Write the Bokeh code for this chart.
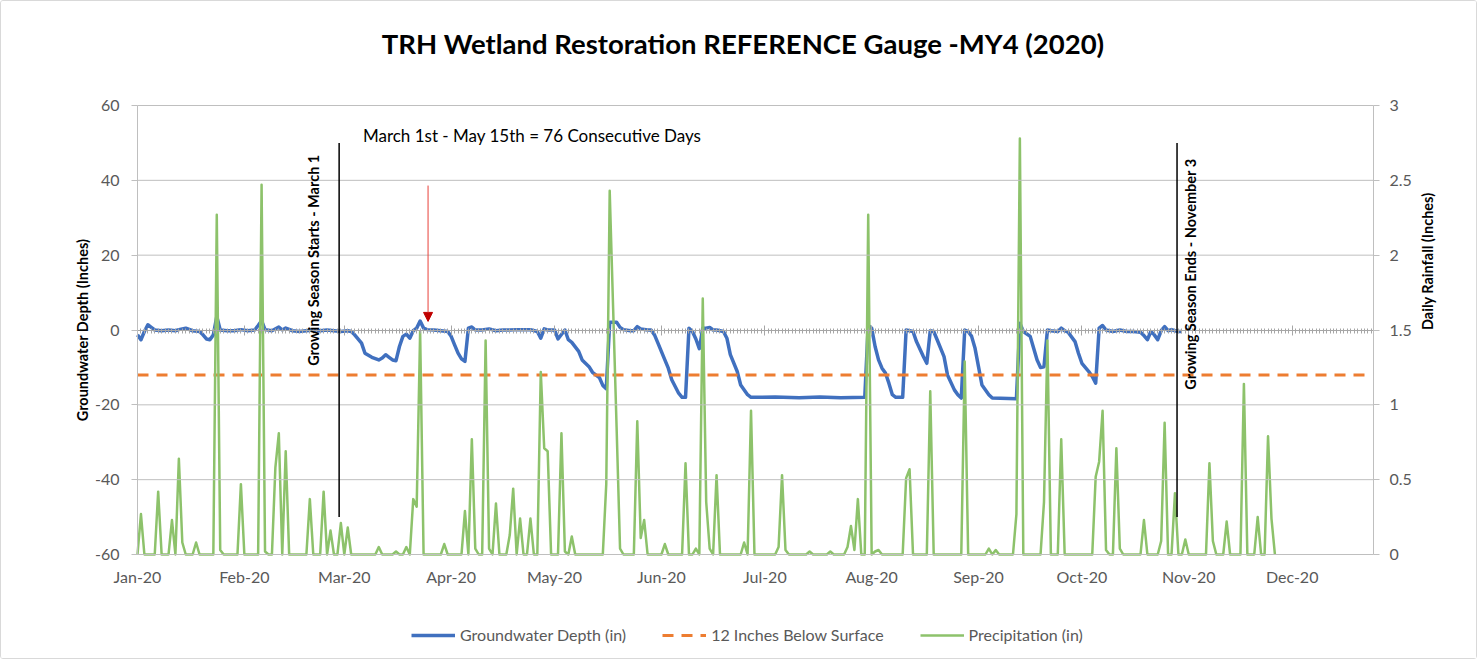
import numpy as np
from bokeh.plotting import figure
from bokeh.models import (Range1d, LinearAxis, FixedTicker, Legend, LegendItem,
                          Label, Arrow, NormalHead, NumeralTickFormatter)
from bokeh.embed import file_html
from bokeh.resources import INLINE

# ---------------- data (day offsets from 1 Jan 2020) ----------------
month_days = [0, 31, 60, 91, 121, 152, 182, 213, 244, 274, 305, 335]
month_labels = ["Jan-20", "Feb-20", "Mar-20", "Apr-20", "May-20", "Jun-20",
                "Jul-20", "Aug-20", "Sep-20", "Oct-20", "Nov-20", "Dec-20"]
depth_ticks = [-60, -40, -20, 0, 20, 40, 60]
rain_ticks = [0, 0.5, 1, 1.5, 2, 2.5, 3]

gw_day = [0, 1, 2, 3, 4, 5, 7, 9, 11, 12, 14, 16, 18, 19, 20, 21, 22, 23, 24, 26,
          28, 30, 32, 34, 35, 36, 37, 39, 41, 42, 43, 45, 47, 49, 51, 53, 55, 57, 59,
          61, 62, 63, 65, 66, 68, 70, 71, 72, 73, 74, 75, 76, 77, 78, 79, 80, 81, 82,
          83, 84, 86, 88, 90, 91, 92, 93, 94, 95, 96, 97, 98, 100, 102, 104, 106, 108,
          110, 114, 116, 117, 118, 119, 121, 122, 124, 125, 126, 128, 129, 131, 132,
          134, 135, 136, 137, 139, 140, 141, 143, 144, 145, 146, 148, 149, 150, 151,
          153, 154, 155, 157, 158, 159, 160, 161, 162, 163, 164, 165, 166, 167, 168,
          170, 171, 172, 174, 175, 177, 178, 185, 192, 198, 204, 211, 212, 213, 214,
          215, 216, 217, 218, 219, 220, 222, 223, 224, 225, 226, 228, 229, 230, 231,
          232, 234, 235, 237, 238, 239, 240, 241, 242, 243, 244, 245, 247, 248, 255,
          256, 257, 259, 260, 261, 262, 263, 264, 265, 267, 268, 269, 270, 272, 273,
          274, 276, 277, 278, 279, 280, 281, 283, 285, 287, 289, 291, 292, 293, 294,
          295, 296, 297, 298, 299, 300, 301, 302, 303]
gw_depth = [-1.3, -2.6, -0.4, 1.4, 0.7, 0.0, -0.2, 0.0, -0.2, 0.1, 0.5, -0.2, -0.4, -1.3,
            -2.4, -2.6, -1.3, 3.6, 0.0, -0.2, -0.2, 0.1, -0.2, 0.0, 1.2, 2.5, 0.1, -0.2,
            0.8, 0.0, 0.5, -0.2, -0.4, -0.2, 0.0, -0.2, 0.0, -0.2, -0.4, -0.2, -0.4, -1.3,
            -3.5, -6.2, -7.3, -8.0, -7.5, -6.6, -7.3, -8.0, -8.2, -4.4, -1.7, -1.1, -2.2,
            -0.2, 0.5, 2.4, 0.5, 0.1, 0.0, -0.2, -0.4, -1.7, -4.0, -6.2, -7.7, -8.4, 0.5,
            0.8, 0.0, 0.0, 0.3, -0.2, 0.0, 0.0, 0.1, 0.1, -0.4, -2.2, 0.3, 0.0, 0.0, -2.4,
            0.0, -2.6, -3.3, -5.7, -8.0, -9.8, -11.3, -12.7, -14.8, -15.7, 2.1, 2.1, 0.7,
            0.1, -0.2, -0.2, 0.9, 0.3, 0.0, 0.0, -1.3, -3.5, -8.0, -10.2, -13.3, -16.9,
            -18.0, -18.0, 0.5, -0.4, -2.4, -5.0, 0.5, 0.5, 0.7, 0.0, 0.0, -0.4, -2.2,
            -6.6, -11.1, -14.7, -17.3, -18.0, -17.9, -18.1, -17.9, -18.1, -18.0, 1.2, 0.5,
            -4.4, -8.0, -10.2, -11.5, -14.2, -17.3, -18.0, -18.0, 0.0, -0.2, -0.4, -3.1,
            -7.1, -8.9, -0.2, -0.4, -2.6, -7.1, -12.0, -16.0, -17.3, -18.2, 0.0, -0.4,
            -1.7, -4.9, -9.8, -14.7, -17.3, -18.2, -18.4, 1.8, -0.4, -1.7, -4.9, -8.0,
            -10.0, -9.8, 0.0, -0.2, -0.4, 0.5, -0.2, -0.6, -3.1, -6.2, -8.9, -11.1, -12.4,
            -14.2, 0.5, 1.2, 0.0, -0.4, 0.0, -0.4, -0.4, -0.6, -1.5, -2.6, -0.4, -1.3,
            -2.6, -0.2, 0.9, -0.2, 0.1, -0.2, -0.4, -0.4]

threshold_day = [0, 356]
threshold_depth = [-12, -12]

rain_last_day = 330
rain_day = [1, 6, 10, 12, 13, 17, 23, 24, 30, 36, 37, 40, 41, 43, 50, 54, 56, 59, 61,
            70, 75, 78, 80, 81, 82, 89, 95, 97, 98, 101, 102, 104, 108, 109, 111, 114,
            117, 118, 119, 123, 124, 126, 136, 137, 138, 139, 140, 145, 146, 147, 153,
            159, 162, 164, 165, 166, 168, 176, 178, 186, 187, 188, 195, 201, 206, 207,
            208, 209, 212, 214, 215, 223, 224, 230, 240, 247, 249, 255, 256, 263, 264,
            268, 278, 279, 280, 281, 284, 285, 292, 297, 298, 301, 304, 311, 312, 316,
            321, 325, 328, 329]
rain_in = [0.27, 0.42, 0.23, 0.64, 0.08, 0.08, 2.27, 0.03, 0.47, 2.47, 0.02, 0.58, 0.81,
           0.69, 0.37, 0.42, 0.16, 0.21, 0.18, 0.05, 0.02, 0.05, 0.37, 0.32, 1.49, 0.07,
           0.29, 0.77, 0.04, 1.43, 0.04, 0.34, 0.13, 0.44, 0.24, 0.24, 1.22, 0.71, 0.69,
           0.81, 0.02, 0.12, 0.47, 2.43, 1.64, 0.85, 0.04, 0.89, 0.11, 0.23, 0.07, 0.61,
           0.04, 1.71, 0.35, 0.04, 0.53, 0.08, 0.96, 0.05, 0.53, 0.03, 0.02, 0.02, 0.05,
           0.19, 0.03, 0.37, 2.27, 0.02, 0.03, 0.51, 0.57, 1.09, 1.29, 0.04, 0.03, 0.27,
           2.78, 0.35, 1.43, 0.77, 0.52, 0.62, 0.96, 0.03, 0.71, 0.04, 0.23, 0.09, 0.88,
           0.41, 0.10, 0.61, 0.09, 0.22, 1.14, 0.25, 0.79, 0.24]

# daily precipitation series (days without a reading are 0 in)
rain_days_all = np.arange(0, rain_last_day + 1)
rain_all = np.zeros(len(rain_days_all))
rain_all[np.array(rain_day)] = rain_in

# ---------------- layout geometry ----------------
X_END = 358.6                      # last day shown on the axis
DEPTH_MIN, DEPTH_MAX = -60, 60
RAIN_MIN, RAIN_MAX = 0, 3
FIG_W, FIG_H = 1475, 657
PLOT_LEFT, PLOT_RIGHT = 136, 1372  # pixel columns of day 0 and X_END
PLOT_TOP, PLOT_BOTTOM = 104, 553   # pixel rows of depth 60 and -60
px_per_day = (PLOT_RIGHT - PLOT_LEFT) / X_END
px_per_unit = (PLOT_BOTTOM - PLOT_TOP) / (DEPTH_MAX - DEPTH_MIN)
pad_top = PLOT_TOP / px_per_unit
pad_bot = (FIG_H - PLOT_BOTTOM) / px_per_unit
depth_per_in = (DEPTH_MAX - DEPTH_MIN) / (RAIN_MAX - RAIN_MIN)

# annotation anchors (day offsets / depth units)
season_start_day = 58.5
season_end_day = 301.6
arrow_day = 84.3

FONT = "Lato"
TICK_COLOR = "#595959"
GRID_COLOR = "#bfbfbf"
AXIS_COLOR = "#bfbfbf"

p = figure(frame_width=FIG_W, frame_height=FIG_H,
           x_range=Range1d(-PLOT_LEFT / px_per_day,
                           X_END + (FIG_W - PLOT_RIGHT) / px_per_day),
           y_range=Range1d(DEPTH_MIN - pad_bot, DEPTH_MAX + pad_top),
           output_backend="svg", toolbar_location=None,
           min_border_left=0, min_border_right=0,
           min_border_top=0, min_border_bottom=0)
p.styles = {"border": "1px solid #d9d9d9", "border-radius": "3px"}
p.outline_line_color = None
p.background_fill_color = "white"
p.border_fill_color = "white"
p.xgrid.visible = False
p.ygrid.visible = False

# ---- horizontal gridlines over the plot span only
for t in depth_ticks:
    if t != 0:
        p.add_layout(Arrow(end=None, x_start=0, y_start=t, x_end=X_END, y_end=t,
                           line_color=GRID_COLOR, line_width=1))

# ---- bottom axis: month labels only, hung under the -60 line
xax = p.below[0]
xax.fixed_location = DEPTH_MIN
xax.bounds = (0, X_END)
xax.ticker = FixedTicker(ticks=month_days)
xax.major_label_overrides = {d: l for d, l in zip(month_days, month_labels)}
xax.axis_line_color = None
xax.major_tick_line_color = None
xax.minor_tick_line_color = None
xax.major_tick_out = 0
xax.major_tick_in = 0
xax.major_label_standoff = 12
xax.major_label_text_font = FONT
xax.major_label_text_font_size = "16px"
xax.major_label_text_color = TICK_COLOR

# ---- axis line with day ticks crossing at depth 0
zax = LinearAxis(fixed_location=0, bounds=(0, X_END),
                 ticker=FixedTicker(ticks=month_days, minor_ticks=list(range(0, 359))),
                 axis_line_color="#a6a6a6", axis_line_width=1,
                 major_tick_line_color="#a6a6a6", major_tick_in=5, major_tick_out=5,
                 minor_tick_line_color="#a6a6a6", minor_tick_in=2, minor_tick_out=3,
                 major_label_overrides={d: "" for d in month_days},
                 major_label_text_font_size="1px")
p.add_layout(zax, "below")

# ---- left axis
yax = p.left[0]
yax.fixed_location = 0
yax.bounds = (DEPTH_MIN, DEPTH_MAX)
yax.ticker = FixedTicker(ticks=depth_ticks)
yax.major_label_overrides = {t: str(t) for t in depth_ticks}
yax.axis_label = "Groundwater Depth (Inches)"
yax.axis_label_text_font = FONT
yax.axis_label_text_font_size = "14.5px"
yax.axis_label_text_font_style = "bold"
yax.axis_label_text_color = "black"
yax.axis_label_standoff = 1
yax.major_label_text_font = FONT
yax.major_label_text_font_size = "16px"
yax.major_label_text_color = TICK_COLOR
yax.major_label_standoff = 12
yax.axis_line_color = AXIS_COLOR
yax.major_tick_line_color = AXIS_COLOR
yax.major_tick_in = 0
yax.major_tick_out = 6
yax.minor_tick_line_color = None

# ---- right axis (rainfall)
p.extra_y_ranges = {"rain": Range1d(RAIN_MIN - pad_bot / depth_per_in,
                                    RAIN_MAX + pad_top / depth_per_in)}
rax = LinearAxis(y_range_name="rain", fixed_location=X_END,
                 bounds=(RAIN_MIN, RAIN_MAX),
                 ticker=FixedTicker(ticks=rain_ticks),
                 formatter=NumeralTickFormatter(format="0.[0]"),
                 axis_label="Daily Rainfall (Inches)",
                 axis_label_text_font=FONT, axis_label_text_font_size="14.5px",
                 axis_label_text_font_style="bold", axis_label_text_color="black",
                 axis_label_standoff=13,
                 major_label_text_font=FONT, major_label_text_font_size="16px",
                 major_label_text_color=TICK_COLOR, major_label_standoff=10,
                 axis_line_color=AXIS_COLOR, major_tick_line_color=AXIS_COLOR,
                 major_tick_in=0, major_tick_out=6, minor_tick_line_color=None)
try:
    rax.axis_label_orientation = np.pi / 2
except Exception:
    pass
p.add_layout(rax, "right")

# ---- series
r_gw = p.line(gw_day, gw_depth, line_color="#4070BF", line_width=3.5,
              line_join="round")
r_thr = p.line(threshold_day, threshold_depth, line_color="#ED7D31", line_width=3,
               line_dash="11 8")
r_rain = p.line(rain_days_all, rain_all, y_range_name="rain", line_color="#8DC26B",
                line_width=2.5, line_join="round")

# ---- annotations
p.add_layout(Label(x=175.7, y=76.5,
                   text="TRH Wetland Restoration REFERENCE Gauge -MY4 (2020)",
                   text_align="center", text_baseline="middle",
                   text_font=FONT, text_font_size="27.5px", text_font_style="bold",
                   text_color="black"))

for d in (season_start_day, season_end_day):
    p.add_layout(Arrow(end=None, x_start=d, y_start=50, x_end=d, y_end=-50,
                       line_color="black", line_width=1.5))

p.add_layout(Label(x=51.2, y=19.1, text="Growing Season Starts  - March 1",
                   angle=np.pi / 2, text_align="center", text_baseline="middle",
                   text_font=FONT, text_font_size="14.5px", text_font_style="bold",
                   text_color="black"))
p.add_layout(Label(x=305.5, y=15.4, text="Growing Season Ends  - November 3",
                   angle=np.pi / 2, text_align="center", text_baseline="middle",
                   text_font=FONT, text_font_size="14.5px", text_font_style="bold",
                   text_color="black"))
p.add_layout(Label(x=65.4, y=52.0, text="March 1st - May 15th = 76 Consecutive Days",
                   text_align="left", text_baseline="middle",
                   text_font=FONT, text_font_size="17px", text_color="black"))
p.add_layout(Arrow(end=NormalHead(size=9, fill_color="#C00000", line_color="#C00000"),
                   x_start=arrow_day, y_start=38.6, x_end=arrow_day, y_end=2.3,
                   line_color="#E8403A", line_width=1))

# ---- legend (inside the full-size frame, under the month labels)
legend = Legend(items=[LegendItem(label="Groundwater Depth (in)", renderers=[r_gw]),
                       LegendItem(label="12 Inches Below Surface", renderers=[r_thr]),
                       LegendItem(label="Precipitation (in)", renderers=[r_rain])],
                orientation="horizontal", location=(410, 14),
                border_line_color=None, background_fill_alpha=0,
                label_text_font=FONT, label_text_font_size="16px",
                label_text_color=TICK_COLOR, glyph_width=44, glyph_height=16,
                label_standoff=5, spacing=36, padding=0, margin=0)
p.add_layout(legend)

open("out.html", "w").write(file_html(p, INLINE))
